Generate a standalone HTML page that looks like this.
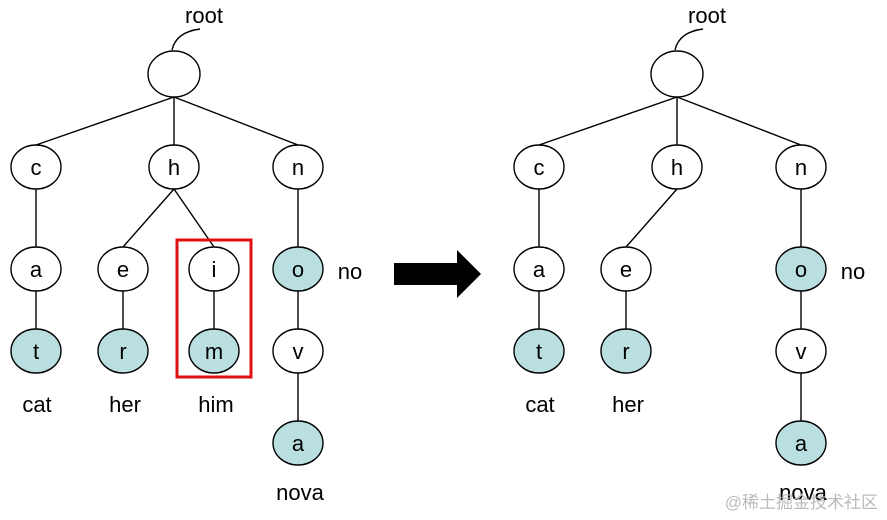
<!DOCTYPE html>
<html><head><meta charset="utf-8"><style>html,body{margin:0;padding:0;background:#fff}svg{display:block}text{font-family:"Liberation Sans",Arial,sans-serif;font-size:22px;fill:#000}</style></head><body>
<svg width="887" height="520" viewBox="0 0 887 520" xmlns="http://www.w3.org/2000/svg">
<defs>
<g id="common" stroke="#000" stroke-width="1.4" fill="none">
</g>
</defs>
<g id="L">
  <g stroke="#000" stroke-width="1.4" fill="none">
    <path d="M172,50 Q176,32 200,29"/>
    <line x1="174" y1="97" x2="36" y2="145"/>
    <line x1="174" y1="97" x2="174" y2="145"/>
    <line x1="174" y1="97" x2="298" y2="145"/>
    <line x1="36" y1="189" x2="36" y2="247"/>
    <line x1="298" y1="189" x2="298" y2="247"/>
    <line x1="36" y1="291" x2="36" y2="329"/>
    <line x1="123" y1="291" x2="123" y2="329"/>
    <line x1="298" y1="291" x2="298" y2="329"/>
    <line x1="298" y1="373" x2="298" y2="421"/>
    <ellipse cx="174" cy="74" rx="26" ry="23" fill="#fff"/>
    <ellipse cx="36" cy="167" rx="25" ry="22" fill="#fff"/>
    <ellipse cx="174" cy="167" rx="25" ry="22" fill="#fff"/>
    <ellipse cx="298" cy="167" rx="25" ry="22" fill="#fff"/>
    <ellipse cx="36" cy="269" rx="25" ry="22" fill="#fff"/>
    <ellipse cx="123" cy="269" rx="25" ry="22" fill="#fff"/>
    <ellipse cx="298" cy="269" rx="25" ry="22" fill="#b9dfe0"/>
    <ellipse cx="36" cy="351" rx="25" ry="22" fill="#b9dfe0"/>
    <ellipse cx="123" cy="351" rx="25" ry="22" fill="#b9dfe0"/>
    <ellipse cx="298" cy="351" rx="25" ry="22" fill="#fff"/>
    <ellipse cx="298" cy="443" rx="25" ry="22" fill="#b9dfe0"/>
  </g>
  <g text-anchor="middle">
    <text x="204" y="23">root</text>
    <text x="36" y="175">c</text>
    <text x="174" y="175">h</text>
    <text x="298" y="175">n</text>
    <text x="36" y="277">a</text>
    <text x="123" y="277">e</text>
    <text x="298" y="277">o</text>
    <text x="36" y="359">t</text>
    <text x="123" y="359">r</text>
    <text x="298" y="359">v</text>
    <text x="298" y="451">a</text>
    <text x="37" y="412">cat</text>
    <text x="125" y="412">her</text>
    <text x="300" y="500">nova</text>
    <text x="350" y="279">no</text>
  </g>
</g>
<g stroke="#000" stroke-width="1.4" fill="none">
  <line x1="174" y1="189" x2="123" y2="247"/>
  <line x1="174" y1="189" x2="214" y2="247"/>
  <line x1="214" y1="291" x2="214" y2="329"/>
  <ellipse cx="214" cy="269" rx="25" ry="22" fill="#fff"/>
  <ellipse cx="214" cy="351" rx="25" ry="22" fill="#b9dfe0"/>
</g>
<text x="214" y="277" text-anchor="middle">i</text>
<text x="214" y="359" text-anchor="middle">m</text>
<text x="216" y="412" text-anchor="middle">him</text>
<rect x="177" y="240" width="74" height="137" fill="none" stroke="#e01010" stroke-width="3"/>
<polygon points="394,263 457,263 457,250 481,274 457,298 457,285 394,285" fill="#000"/>
<use href="#L" transform="translate(503,0)"/>
<line x1="677" y1="189" x2="626" y2="247" stroke="#000" stroke-width="1.4"/>
<text x="878" y="508" text-anchor="end" style="font-size:17px;fill:#bbb">@稀土掘金技术社区</text>
</svg>
</body></html>
